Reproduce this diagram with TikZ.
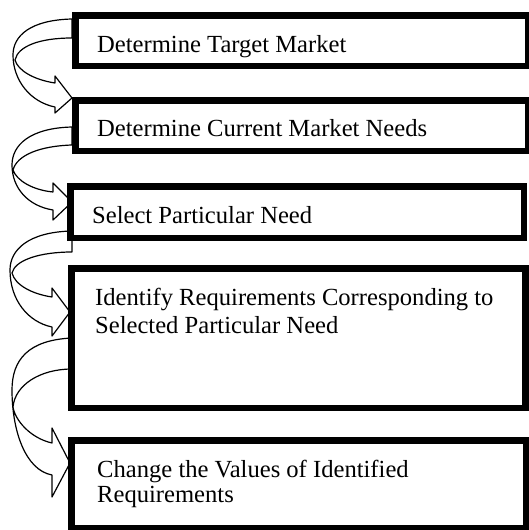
\documentclass[tikz,border=0pt]{standalone}
\usepackage{fontspec}
\setmainfont{Liberation Serif}
\begin{document}
\begin{tikzpicture}[x=1pt,y=-1pt,
  stepbox/.style={draw=black,line width=6.5pt,fill=white,inner sep=0pt,anchor=center},
  carrow/.style={draw=black,line width=1.2pt,fill=white,line join=round},
  label/.style={anchor=base west,inner sep=0pt,align=left,font=\fontsize{24.6}{28}\selectfont}]
\useasboundingbox (0,0) rectangle (528,530);
% curved block arrows
\draw[carrow] (72,19) .. controls (30,20) and (13,36) .. (13,55) .. controls (13,80) and (30,102) .. (55,107) -- (55,113) -- (72,98) -- (55,76) -- (55,83) .. controls (35,80) and (18,71) .. (15,60) .. controls (18,46) and (40,38) .. (72,38) -- cycle;
\draw[carrow] (72,127) .. controls (30,128) and (12,145) .. (12,165) .. controls (12,188) and (28,206) .. (53,210) -- (53,220) -- (72,202) -- (53,183) -- (53,192) .. controls (33,190) and (17,181) .. (13,170) .. controls (17,155) and (40,146) .. (72,145) -- cycle;
\draw[carrow] (72,231) .. controls (28,232) and (10,250) .. (10,270) .. controls (10,300) and (28,322) .. (52,327) -- (52,336) -- (70,312) -- (52,288) -- (52,297) .. controls (32,294) and (15,285) .. (12,273) .. controls (15,260) and (40,252) .. (72,252) -- cycle;
\draw[carrow] (72,338) .. controls (28,340) and (12,360) .. (12,390) .. controls (12,430) and (25,470) .. (52,475) -- (52,497) -- (70,463) -- (52,428) -- (52,443) .. controls (30,438) and (15,420) .. (13,407) .. controls (15,385) and (40,369) .. (72,369) -- cycle;
% boxes
\node[stepbox,minimum width=453pt,minimum height=50.5pt] (b1) at (301.75,40.5) {};
\node[stepbox,minimum width=453pt,minimum height=50.5pt] (b2) at (301.75,125.5) {};
\node[stepbox,minimum width=453.5pt,minimum height=51.5pt] (b3) at (297,212) {};
\node[stepbox,minimum width=454pt,minimum height=139.5pt] (b4) at (298.25,338) {};
\node[stepbox,minimum width=455pt,minimum height=88pt] (b5) at (298.75,484.25) {};
% texts
\node[label] (t1) at (97,52) {Determine Target Market};
\node[label] (t2) at (97,136) {Determine Current Market Needs};
\node[label] (t3) at (92,223) {Select Particular Need};
\node[label] (t4) at (95,333) {Identify Requirements Corresponding to\\Selected Particular Need};
\node[label] (t5) at (97,502) {Change the Values of Identified\\[-3pt]Requirements};
\end{tikzpicture}
\end{document}
